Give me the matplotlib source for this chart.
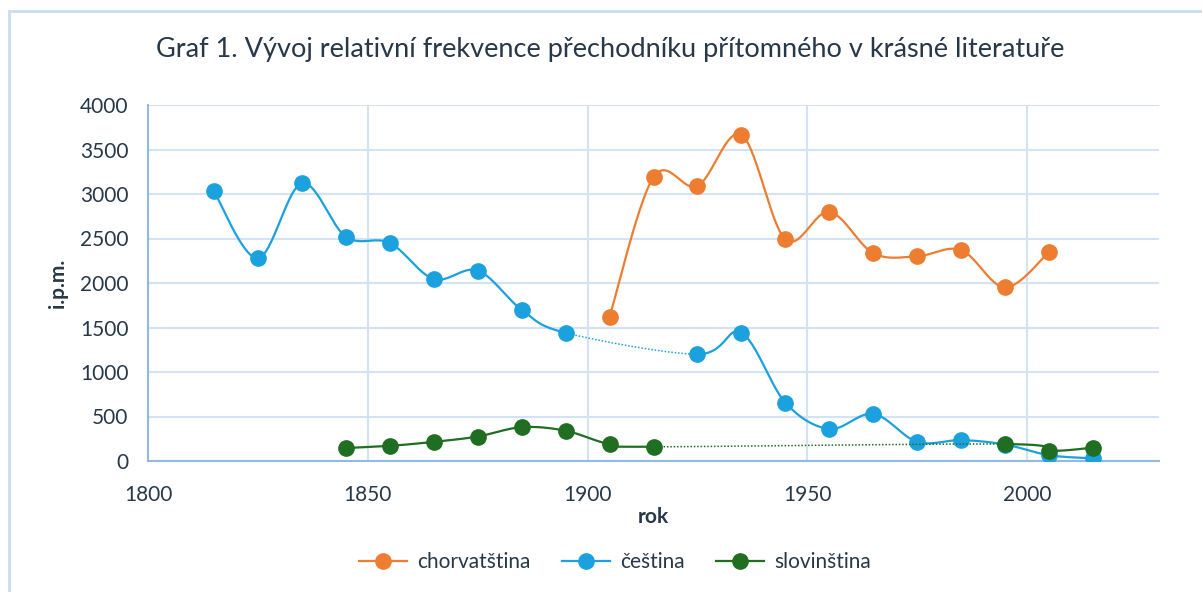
import numpy as np
import matplotlib.pyplot as plt
from matplotlib.lines import Line2D

plt.rcParams['font.family'] = ['Lato', 'DejaVu Sans']

# data (i.p.m. per decade)
roky = np.arange(1815, 2016, 10)
cestina = [3030, 2280, 3120, 2520, 2450, 2045, 2140, 1700, 1440, np.nan,
           np.nan, 1200, 1440, 655, 360, 530, 215, 235, 185, 65, 30]
roky_chorv = np.arange(1905, 2006, 10)
chorvatstina = [1620, 3190, 3090, 3665, 2490, 2800, 2335, 2300, 2370, 1950, 2350]
roky_slov = np.arange(1845, 2016, 10)
slovinstina = [145, 170, 215, 275, 380, 340, 190, 160, np.nan, np.nan, np.nan,
               np.nan, np.nan, np.nan, np.nan, 190, 115, 150]

nazvy = ['chorvatština', 'čeština', 'slovinština']
barvy = ['#ED7D31', '#1BA1DE', '#1F6E21']
text_c = '#273849'


def smooth(x, y, n=30):
    # excel-like smoothing: cubic bezier with catmull-rom control points
    pts = np.column_stack([x, y])
    segs = []
    for i in range(len(pts) - 1):
        p0 = pts[i - 1] if i > 0 else pts[i]
        p1, p2 = pts[i], pts[i + 1]
        p3 = pts[i + 2] if i + 2 < len(pts) else pts[i + 1]
        c1 = p1 + (p2 - p0) / 6
        c2 = p2 - (p3 - p1) / 6
        t = np.linspace(0, 1, n)[:, None]
        b = ((1 - t) ** 3 * p1 + 3 * (1 - t) ** 2 * t * c1
             + 3 * (1 - t) * t ** 2 * c2 + t ** 3 * p2)
        segs.append(b)
    return segs


def plot_series(ax, x, y, color, z):
    x = np.asarray(x, float)
    y = np.asarray(y, float)
    ok = ~np.isnan(y)
    xs, ys = x[ok], y[ok]
    segs = smooth(xs, ys)
    run = []
    for i, s in enumerate(segs):
        if xs[i + 1] - xs[i] > 10:
            if run:
                r = np.vstack(run)
                ax.plot(r[:, 0], r[:, 1], color=color, lw=1.6, zorder=z)
                run = []
            # missing decades -> thin dotted connector
            ax.plot(s[:, 0], s[:, 1], color=color, lw=1.1,
                    ls=(0, (1, 1.2)), zorder=z)
        else:
            run.append(s)
    if run:
        r = np.vstack(run)
        ax.plot(r[:, 0], r[:, 1], color=color, lw=1.6, zorder=z)
    ax.plot(xs, ys, 'o', ms=11, color=color, mec=color, zorder=z + 0.5)


fig = plt.figure(figsize=(12.02, 5.92), dpi=100)
ax = fig.add_axes([148 / 1202, 1 - 461 / 592, (1159 - 148) / 1202, (461 - 105) / 592])

plot_series(ax, roky_chorv, chorvatstina, barvy[0], 3)
plot_series(ax, roky, cestina, barvy[1], 4)
plot_series(ax, roky_slov, slovinstina, barvy[2], 5)

ax.set_xlim(1800, 2030)
ax.set_ylim(0, 4000)
ax.set_xticks(np.arange(1800, 2001, 50))
ax.set_yticks(np.arange(0, 4001, 500))
ax.grid(True, color='#D3E2F5', lw=1.5)
ax.set_axisbelow(True)
for s in ['top', 'right']:
    ax.spines[s].set_visible(False)
for s in ['left', 'bottom']:
    ax.spines[s].set_color('#93B8E6')
    ax.spines[s].set_linewidth(1.5)
    ax.spines[s].set_zorder(2)
ax.tick_params(length=0, labelsize=15, labelcolor=text_c)
ax.tick_params(axis='x', pad=17)
ax.tick_params(axis='y', pad=14)

ax.set_xlabel('rok', fontsize=15, fontweight='bold', color=text_c, labelpad=2)
ax.set_ylabel('i.p.m.', fontsize=15, fontweight='bold', color=text_c, labelpad=9)

fig.text(0.508, 1 - 50 / 592, 'Graf 1. Vývoj relativní frekvence přechodníku přítomného v krásné literatuře',
         ha='center', va='center', fontsize=19.5, color=text_c)

handles = [Line2D([], [], color=c, lw=1.6, marker='o', ms=11) for c in barvy]
fig.legend(handles, nazvy, loc='center', bbox_to_anchor=(615 / 1202, 1 - 562 / 592),
           ncol=3, frameon=False, fontsize=15, handlelength=2.3, handletextpad=0.5,
           columnspacing=1.5, labelcolor=text_c)

# chart frame
fig.add_artist(Line2D([9 / 1202, 9 / 1202], [0, 1 - 11 / 592], color='#C9DCF2', lw=2))
fig.add_artist(Line2D([9 / 1202, 1], [1 - 11 / 592, 1 - 11 / 592], color='#C9DCF2', lw=2))

fig.savefig('out.png', dpi=100)
